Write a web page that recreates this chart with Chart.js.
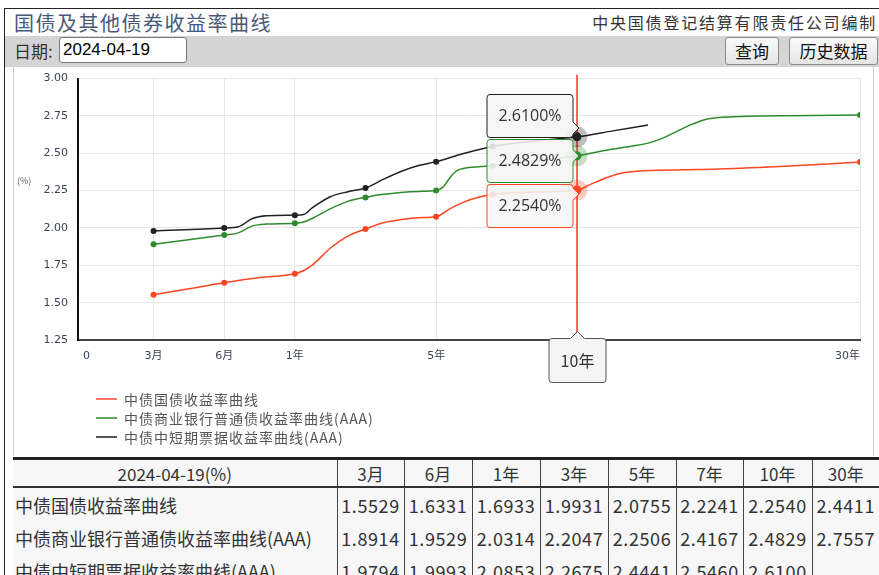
<!DOCTYPE html>
<html><head><meta charset="utf-8">
<script src="https://cdn.jsdelivr.net/npm/chart.js@4.4.1/dist/chart.umd.min.js"></script>
<style>
html,body{margin:0;padding:0;background:#fff;width:879px;height:575px;overflow:hidden;font-family:"Noto Sans CJK SC","Noto Sans",sans-serif;}
#frame{position:absolute;left:4px;top:8px;width:900px;height:600px;border-left:1px solid #222;border-top:1px solid #222;}
#title{position:absolute;left:14px;top:9px;height:27px;line-height:27px;font-size:20px;letter-spacing:1.5px;color:#4a5878;white-space:nowrap;}
#org{position:absolute;right:2px;top:9px;height:26px;line-height:26px;font-size:16px;letter-spacing:1.8px;color:#333;white-space:nowrap;}
#bar{position:absolute;left:5px;top:36px;width:874px;height:31px;background:#d4d4d4;}
#datelbl{position:absolute;left:14px;top:38px;height:25px;line-height:25px;font-size:17px;color:#333;}
#datebox{position:absolute;left:59px;top:37px;width:123px;height:24px;border:1px solid #7a7a7a;border-radius:3px;background:#fff;font-family:"Liberation Sans",Arial,sans-serif;font-size:17px;line-height:24px;padding-left:3px;box-sizing:content-box;color:#000;}
.btn{position:absolute;top:37px;height:26px;border:1px solid #8a8a8a;border-radius:3px;background:linear-gradient(#fbfbfb,#e4e4e4);font-size:17px;line-height:26px;text-align:center;color:#111;}
#panel{position:absolute;left:13px;top:67px;width:859px;height:389px;background:#fff;border-left:1px solid #d0d0d0;border-right:1px solid #d0d0d0;}
#chart{position:absolute;left:14px;top:62px;}
#unit{position:absolute;left:17px;top:174px;font-size:9px;color:#666;}
#legend{position:absolute;left:96px;top:389px;}
.li{height:19px;display:flex;align-items:center;font-size:14px;letter-spacing:1px;color:#555;white-space:nowrap;}
.li span.ln{display:inline-block;width:21px;height:2px;margin-right:7px;}
#tbl{position:absolute;left:13px;top:457px;border-collapse:collapse;table-layout:fixed;width:866px;border-top:3px solid #222;background:#f7f7f7;}
#tbl th{height:26px;font-weight:normal;font-size:17px;color:#333;border-bottom:2px solid #333;border-left:1px solid #444;padding:0;text-align:center;}
#tbl td{height:33px;font-size:18px;color:#333;border-left:1px solid #444;padding:0;text-align:center;letter-spacing:0.6px;white-space:nowrap;}
#tbl th:first-child,#tbl td:first-child{border-left:none;}
#tbl td:first-child{text-align:left;padding-left:2px;letter-spacing:0;}
</style></head>
<body>
<div id="frame"></div>
<div id="title">国债及其他债券收益率曲线</div>
<div id="org">中央国债登记结算有限责任公司编制</div>
<div id="bar"></div>
<div id="datelbl">日期:</div>
<div id="datebox"></div>
<div class="btn" style="left:725px;width:52px;">查询</div>
<div class="btn" style="left:789px;width:87px;">历史数据</div>
<div id="panel"></div>
<canvas id="chart" width="859" height="330"></canvas>
<div id="unit">(%)</div>
<div id="legend"></div>
<table id="tbl">
<colgroup><col style="width:324px"><col style="width:67px"><col style="width:68px"><col style="width:68px"><col style="width:68px"><col style="width:68px"><col style="width:67px"><col style="width:69px"><col style="width:67px"></colgroup>
<thead><tr id="thead"></tr></thead><tbody id="tbody"></tbody></table>
<script>
// ---------- data ----------
const dateStr = '2024-04-19';
const seriesNames = ['中债国债收益率曲线','中债商业银行普通债收益率曲线(AAA)','中债中短期票据收益率曲线(AAA)'];
const keyTenors = [0.25, 0.5, 1, 3, 5, 7, 10, 30];
const keyTenorLabels = ['3月','6月','1年','3年','5年','7年','10年','30年'];
const govYields  = [1.5529, 1.6331, 1.6933, 1.9931, 2.0755, 2.2241, 2.2540, 2.4411];
const bankYields = [1.8914, 1.9529, 2.0314, 2.2047, 2.2506, 2.4167, 2.4829, 2.7557];
const billYields = [1.9794, 1.9993, 2.0853, 2.2675, 2.4441, 2.5460, 2.6100, null];

// full curves
const govCurveTenors = [0.25,0.375,0.5,0.75,1,1.25,1.5,2,2.5,3,3.5,4,4.5,5,5.5,6,6.5,7,8.5,10,11,12,13,14,15,17.5,20,25,30];
const govCurveYields = [1.5529,1.593,1.6331,1.668,1.6933,1.715,1.753,1.864,1.946,1.9931,2.035,2.056,2.069,2.0755,2.13,2.175,2.205,2.2241,2.24,2.254,2.295,2.335,2.365,2.378,2.385,2.39,2.395,2.415,2.4411];
const bankCurveTenors = [0.25,0.5,0.6,0.7,0.8,1,1.25,1.5,2,2.5,3,3.5,4,4.5,5,5.25,5.5,5.75,6,6.5,7,8.5,10,12,14,15,16,17,18,19,20,22,25,30];
const bankCurveYields = [1.8914,1.9529,1.967,2.014,2.026,2.0314,2.04,2.065,2.128,2.178,2.2047,2.225,2.238,2.245,2.2506,2.275,2.34,2.385,2.40,2.41,2.4167,2.45,2.4829,2.52,2.55,2.568,2.60,2.645,2.69,2.725,2.74,2.748,2.752,2.7557];
const billCurveTenors = [0.25,0.5,0.6,0.7,0.8,1,1.25,1.5,2,2.5,3,3.5,4,4.5,5,6,7,8.5,10,12.5,15];
const billCurveYields = [1.9794,1.9993,2.008,2.063,2.081,2.0853,2.09,2.136,2.209,2.243,2.2675,2.325,2.378,2.418,2.4441,2.50,2.546,2.583,2.61,2.65,2.69];

const axisTickTenors = [0, 0.25, 0.5, 1, 5, 10, 30];
const axisTickLabels = ['0','3月','6月','1年','5年','10年','30年'];
const yTickValues = [1.25,1.50,1.75,2.00,2.25,2.50,2.75,3.00];
const hoverTenor = 10;

// ---------- styles ----------
const colors = ['#ff4422','#2e8b2e','#222222'];
const halos  = ['rgba(255,68,34,0.28)','rgba(46,139,46,0.28)','rgba(0,0,0,0.25)'];
const legendColors = ['#ff7a60','#5ea65e','#555555'];
const FONT = '"Noto Sans CJK SC","Noto Sans",sans-serif';
const TICKFONT = '"DejaVu Sans","Noto Sans CJK SC",sans-serif';

// piecewise axis mapping of the original chart (tenor -> axis position)
const axisBreakTenors = [0,0.25,0.5,1,5,10,30];
const axisBreakPos    = [0,1,2,3,5,7,11];
function tenorToPos(t){
  for(let i=1;i<axisBreakTenors.length;i++){
    if(t<=axisBreakTenors[i]){
      const a=axisBreakTenors[i-1], b=axisBreakTenors[i];
      return axisBreakPos[i-1] + (t-a)/(b-a)*(axisBreakPos[i]-axisBreakPos[i-1]);
    }
  }
  return axisBreakPos[axisBreakPos.length-1];
}

const keySeries = [govYields, bankYields, billYields];
const curves = [[govCurveTenors,govCurveYields],[bankCurveTenors,bankCurveYields],[billCurveTenors,billCurveYields]];

// ---------- page texts ----------
document.getElementById('datebox').textContent = dateStr;
document.getElementById('legend').innerHTML = seriesNames.map((n,i)=>
  `<div class="li"><span class="ln" style="background:${legendColors[i]}"></span>${n}</div>`).join('');
document.getElementById('thead').innerHTML = `<th>${dateStr}(%)</th>` + keyTenorLabels.map(l=>`<th>${l}</th>`).join('');
document.getElementById('tbody').innerHTML = seriesNames.map((n,i)=>
  `<tr><td>${n}</td>` + keySeries[i].map(v=>`<td>${v==null?'':v.toFixed(4)}</td>`).join('') + '</tr>').join('');

// ---------- chart ----------
const datasets = [];
curves.forEach((c,i)=>{
  datasets.push({
    label: seriesNames[i],
    data: c[0].map((t,j)=>({x:tenorToPos(t), y:c[1][j]})),
    borderColor: colors[i], borderWidth: 1.5, pointRadius: 0,
    cubicInterpolationMode: 'monotone', fill:false
  });
});
keySeries.forEach((s,i)=>{
  datasets.push({
    label: seriesNames[i]+' 关键期限',
    data: keyTenors.map((t,j)=>({x:tenorToPos(t), y:s[j]})).filter(p=>p.y!=null),
    showLine:false, pointRadius:3, pointBackgroundColor: colors[i], pointBorderWidth:0
  });
});

function roundRectArrow(ctx, l, t, w, h, r, arrow){
  const R=l+w, B=t+h;
  ctx.beginPath();
  ctx.moveTo(l+r,t);
  if(arrow && arrow.side==='top'){ ctx.lineTo(arrow.at-7,t); ctx.lineTo(arrow.at,t-7); ctx.lineTo(arrow.at+7,t); }
  ctx.lineTo(R-r,t); ctx.arcTo(R,t,R,t+r,r);
  if(arrow && arrow.side==='right'){ ctx.lineTo(R,arrow.at-6); ctx.lineTo(R+6,arrow.at); ctx.lineTo(R,arrow.at+6); }
  ctx.lineTo(R,B-r); ctx.arcTo(R,B,R-r,B,r);
  ctx.lineTo(l+r,B); ctx.arcTo(l,B,l,B-r,r);
  ctx.lineTo(l,t+r); ctx.arcTo(l,t,l+r,t,r);
  ctx.closePath();
}

const hoverPlugin = {
  id:'hoverView',
  afterDatasetsDraw(chart){
    const {ctx, chartArea, scales:{x,y}} = chart;
    const idx = keyTenors.indexOf(hoverTenor);
    const px = Math.round(x.getPixelForValue(tenorToPos(hoverTenor)));
    ctx.save();
    ctx.strokeStyle='#ff0000'; ctx.lineWidth=1.2; ctx.setLineDash([]);
    ctx.beginPath(); ctx.moveTo(px, chartArea.top-4); ctx.lineTo(px, chartArea.bottom); ctx.stroke();
    keySeries.forEach((s,i)=>{
      const v=s[idx]; if(v==null) return;
      const py=y.getPixelForValue(v);
      ctx.fillStyle=halos[i]; ctx.beginPath(); ctx.arc(px,py,10.5,0,Math.PI*2); ctx.fill();
      ctx.fillStyle=colors[i]; ctx.beginPath(); ctx.arc(px,py,4.5,0,Math.PI*2); ctx.fill();
    });
    ctx.restore();
  },
  afterDraw(chart){
    const {ctx, chartArea, scales:{x,y}} = chart;
    const idx = keyTenors.indexOf(hoverTenor);
    const px = Math.round(x.getPixelForValue(tenorToPos(hoverTenor)))+0.5;
    ctx.save();
    // per-series value boxes, stacked to avoid overlap
    const items = keySeries.map((s,i)=>({i, v:s[idx]})).filter(o=>o.v!=null)
      .map(o=>({...o, py:y.getPixelForValue(o.v)})).sort((a,b)=>a.py-b.py);
    const h=44, gap=1, w=86;
    const total = items.length*h + (items.length-1)*gap;
    const center = items.reduce((a,o)=>a+o.py,0)/items.length;
    let top = Math.round(center-total/2);
    items.forEach(o=>{
      const right = px-4.5, left = right-w;
      const at = Math.max(top+10, Math.min(top+h-10, o.py));
      roundRectArrow(ctx, left, top+0.5, w, h-1, 3, {side:'right', at});
      ctx.fillStyle='rgba(245,245,245,0.88)'; ctx.fill();
      ctx.strokeStyle=colors[o.i]; ctx.lineWidth=1; ctx.stroke();
      ctx.fillStyle='#333'; ctx.font='16px "Open Sans","Noto Sans",sans-serif';
      ctx.textAlign='center'; ctx.textBaseline='middle';
      ctx.fillText(o.v.toFixed(4)+'%', left+w/2, top+h/2);
      top += h+gap;
    });
    // axis pointer label
    const lw=57, lh=44, lt=chartArea.bottom-1.5;
    roundRectArrow(ctx, px-lw/2, lt, lw, lh, 3, {side:'top', at:px});
    ctx.fillStyle='#f5f5f5'; ctx.fill();
    ctx.strokeStyle='#555'; ctx.lineWidth=1; ctx.stroke();
    ctx.fillStyle='#333'; ctx.font='16px '+FONT; ctx.textAlign='center'; ctx.textBaseline='middle';
    ctx.fillText(keyTenorLabels[idx], px, lt+lh/2);
    ctx.restore();
  }
};

new Chart(document.getElementById('chart'), {
  type:'line',
  data:{datasets},
  options:{
    responsive:false, animation:false, events:[],
    layout:{padding:{top:3,right:13,bottom:25,left:0}},
    plugins:{legend:{display:false}, tooltip:{enabled:false}},
    scales:{
      x:{
        type:'linear', min:-0.07, max:11,
        afterBuildTicks(s){ s.ticks = axisTickTenors.map(t=>({value:tenorToPos(t)})); },
        afterFit(s){ s.height = 27; },
        ticks:{ align:'inner', padding:10, maxRotation:0, autoSkip:false,
          font:{size:11, family:TICKFONT}, color:'#3a4556',
          callback:(v,i)=>axisTickLabels[i] },
        grid:{ color:c => (c.tick && c.tick.value===0) ? 'rgba(0,0,0,0)' : '#e6e6e6', drawTicks:false },
        border:{ color:'#444', width:2 }
      },
      y:{
        min:1.25, max:3.0,
        afterBuildTicks(s){ s.ticks = yTickValues.map(v=>({value:v})); },
        afterFit(s){ s.width = 64; },
        ticks:{ padding:10, font:{size:11, family:TICKFONT}, color:'#3a4556', callback:v=>v.toFixed(2) },
        grid:{ color:'#e6e6e6', drawTicks:false },
        border:{ color:'#111', width:2 }
      }
    }
  },
  plugins:[hoverPlugin]
});
</script>
</body></html>
